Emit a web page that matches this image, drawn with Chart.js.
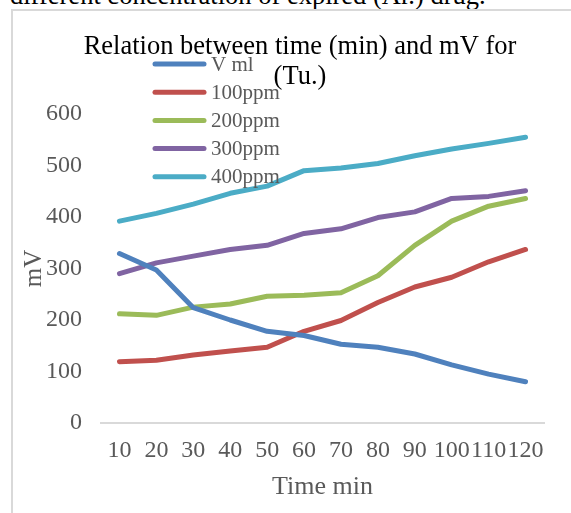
<!DOCTYPE html>
<html>
<head>
<meta charset="utf-8">
<script src="https://cdn.jsdelivr.net/npm/chart.js@4/dist/chart.umd.min.js"></script>
<style>
  html, body { margin: 0; padding: 0; background: #fff; overflow: hidden; }
  #wrap { position: relative; width: 571px; height: 513px; }
  #caption { position: absolute; left: 10px; top: -18px; font: 26.5px/1 "Liberation Serif", serif; color: #000; white-space: nowrap; }
  #box { position: absolute; left: 11px; top: 9px; width: 600px; height: 600px; border: 2px solid #d9d9d9; box-sizing: border-box; }
  #chart { position: absolute; left: 0; top: 0; }
</style>
</head>
<body>
<div id="wrap">
  <div id="caption">different concentration of expired (Ar.) drug.</div>
  <div id="box"></div>
  <canvas id="chart" width="571" height="513"></canvas>
</div>
<script>
let times = ['10', '20', '30', '40', '50', '60', '70', '80', '90', '100', '110', '120'];
let vml    = [329, 297, 224, 200, 178, 170, 153, 147, 134, 113, 95, 80];
let ppm100 = [119, 122, 132, 140, 147, 178, 199, 234, 264, 283, 313, 337];
let ppm200 = [212, 209, 225, 231, 246, 248, 253, 286, 345, 392, 421, 436];
let ppm300 = [290, 311, 324, 337, 345, 368, 377, 399, 410, 436, 440, 451];
let ppm400 = [392, 407, 425, 446, 460, 490, 495, 504, 519, 532, 543, 555];

let seriesNames = ['V ml', '100ppm', '200ppm', '300ppm', '400ppm'];
let seriesColors = ['#4f81bd', '#c0504d', '#9bbb59', '#8064a2', '#4bacc6'];
let seriesData = [vml, ppm100, ppm200, ppm300, ppm400];
let titleLines = ['Relation between time (min) and mV for', '(Tu.)'];

const serif = "'Liberation Serif', 'Times New Roman', serif";
const grey = '#595959';

// title sits a bit left of the plot centre, so it is drawn by hand
const docTitle = {
  id: 'docTitle',
  afterDraw(chart) {
    const c = chart.ctx;
    c.save();
    c.font = '26.5px ' + serif;
    c.fillStyle = '#000';
    c.textAlign = 'center';
    c.textBaseline = 'alphabetic';
    titleLines.forEach((t, i) => c.fillText(t, 300, 54 + i * 30));
    c.restore();
  }
};

// legend drawn over the plot like the original
const overlayLegend = {
  id: 'overlayLegend',
  afterDatasetsDraw(chart) {
    const c = chart.ctx;
    c.save();
    c.font = '21px ' + serif;
    c.textBaseline = 'middle';
    chart.data.datasets.forEach((ds, i) => {
      let y = 64 + i * 28.2;
      c.strokeStyle = ds.borderColor;
      c.lineWidth = 5;
      c.lineCap = 'round';
      c.beginPath();
      c.moveTo(155, y);
      c.lineTo(204, y);
      c.stroke();
      c.fillStyle = grey;
      c.fillText(ds.label, 211, y + 1);
    });
    c.restore();
  }
};

let datasets = seriesNames.map((name, i) => ({
  label: name,
  data: seriesData[i],
  borderColor: seriesColors[i],
  backgroundColor: seriesColors[i],
  borderWidth: 5,
  borderCapStyle: 'round',
  borderJoinStyle: 'round',
  pointRadius: 0,
  tension: 0,
  fill: false
}));

// note: chart.js reserves tick padding twice when fitting an axis,
// the negative title paddings take that slack back
new Chart(document.getElementById('chart'), {
  type: 'line',
  data: { labels: times, datasets: datasets },
  options: {
    responsive: false,
    animation: false,
    layout: { padding: { left: 21.5, right: 27, top: 114, bottom: 7 } },
    plugins: {
      legend: { display: false },
      tooltip: { enabled: false },
      title: { display: false }
    },
    scales: {
      x: {
        offset: true,
        grid: { display: false, drawTicks: false },
        border: { display: true, color: '#d9d9d9', width: 2 },
        ticks: { color: grey, font: { family: serif, size: 24 }, padding: 13.6, maxRotation: 0, autoSkip: false },
        title: { display: true, text: 'Time min', color: grey, font: { family: serif, size: 26 }, padding: { top: -7.6, bottom: 3.4 } }
      },
      y: {
        min: 0,
        max: 600,
        ticks: { stepSize: 100, color: grey, font: { family: serif, size: 24 }, padding: 19 },
        grid: { display: false, drawTicks: false },
        border: { display: false },
        title: { display: true, text: 'mV', color: grey, font: { family: serif, size: 25, lineHeight: 1 }, padding: { top: 0, bottom: -19.5 } }
      }
    }
  },
  plugins: [overlayLegend, docTitle]
});
</script>
</body>
</html>
